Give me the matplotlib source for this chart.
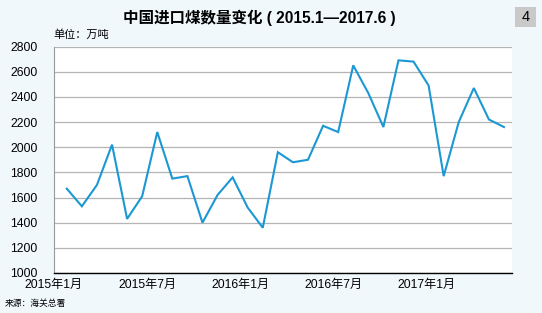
import numpy as np
import matplotlib
matplotlib.use("Agg")
import matplotlib.pyplot as plt
from matplotlib.patches import Rectangle

# Latin digits in a Helvetica-like face, CJK falls through to Noto
plt.rcParams['font.family'] = ['Liberation Sans', 'Noto Sans CJK SC', 'DejaVu Sans']

# ── Data: monthly coal imports, 2015.1 - 2017.6 (10k tonnes) ─────────────────
values = [1670, 1530, 1700, 2020, 1430, 1610, 2120, 1750, 1770, 1400,
          1620, 1760, 1520, 1360, 1960, 1880, 1900, 2170, 2120, 2650,
          2430, 2160, 2690, 2680, 2490, 1770, 2200, 2470, 2220, 2160]
tick_idx = [0, 6, 12, 18, 24]
tick_labels = ["2015年1月", "2015年7月", "2016年1月", "2016年7月", "2017年1月"]
y_ticks = [1000, 1200, 1400, 1600, 1800, 2000, 2200, 2400, 2600, 2800]

bg = "#f1f8fc"
line_color = "#1b98d3"

fig = plt.figure(figsize=(5.42, 3.13), dpi=100, facecolor=bg)
ax = fig.add_axes([0.0996, 0.1278, 0.8450, 0.7236])
ax.set_facecolor("white")

x = np.arange(len(values))
ax.plot(x, values, color=line_color, linewidth=1.5, solid_joinstyle='miter')

ax.set_xlim(-0.66, 29.53)
ax.set_ylim(1000, 2800)
ax.set_yticks(y_ticks)
ax.set_yticklabels([str(v) for v in y_ticks], fontsize=8.7)
ax.yaxis.grid(True, color="#b4b4b4", linewidth=0.9)
ax.set_axisbelow(True)

# category labels sit a little left of their points, as in the original
ax.set_xticks([i - 0.85 + 0.03 * i for i in tick_idx])
ax.set_xticklabels(tick_labels, fontsize=8.7)
ax.tick_params(length=0, pad=4)
ax.tick_params(axis='y', pad=12)

for s in ("top", "right"):
    ax.spines[s].set_visible(False)
ax.spines["left"].set_color("#999999")
ax.spines["bottom"].set_color("black")
ax.spines["bottom"].set_linewidth(1.0)

# ── Texts ─────────────────────────────────────────────────────────────────────
fig.text(0.479, 0.942, "中国进口煤数量变化 ( 2015.1—2017.6 )", ha="center", va="center",
         fontsize=11.2, fontweight="bold")
fig.text(0.098, 0.89, "单位：万吨", ha="left", va="center", fontsize=8)
fig.text(0.009, 0.03, "来源：海关总署", ha="left", va="center", fontsize=6.3)

fig.patches.append(Rectangle((515 / 542, 1 - 27 / 313), 21 / 542, 20 / 313,
                             transform=fig.transFigure, facecolor="#c9c9c9",
                             edgecolor="none"))
fig.text(525.5 / 542, 1 - 17 / 313, "4", ha="center", va="center", fontsize=10.5)

plt.savefig("out.png", dpi=100, facecolor=bg)
